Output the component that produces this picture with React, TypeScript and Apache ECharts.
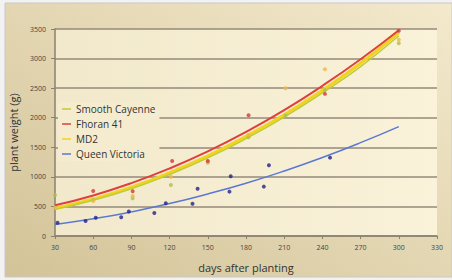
import React, { useEffect, useRef } from "react";
import * as echarts from "echarts";

const trendDays = [30, 60, 90, 120, 150, 180, 210, 240, 270, 300];
const trendFhoran = [519, 686, 894, 1142, 1430, 1759, 2128, 2539, 2989, 3480];
const trendMD2 = [465, 625, 825, 1070, 1355, 1685, 2050, 2465, 2920, 3440];
const trendSmooth = [450, 605, 800, 1040, 1320, 1645, 2010, 2420, 2865, 3385];
const trendQueen = [195, 290, 408, 548, 711, 893, 1099, 1327, 1578, 1850];

const ptsFhoran = [[60, 761], [91, 756], [122, 1269], [150, 1269], [182, 2040], [242, 2403], [300, 3470]];
const ptsMD2 = [[30, 480], [60, 592], [91, 677], [121, 1000], [150, 1255], [182, 1710], [211, 2498], [242, 2820], [300, 3320]];
const ptsSmooth = [[30, 694], [60, 612], [91, 637], [121, 863], [150, 1240], [182, 1670], [211, 2036], [242, 2470], [300, 3260]];
const ptsQueen = [[32, 225], [54, 254], [62, 308], [82, 318], [88, 415], [108, 389], [117, 555], [138, 547], [142, 800], [167, 750], [168, 1010], [194, 835], [198, 1196], [246, 1325]];

const names = ["Smooth Cayenne", "Fhoran 41", "MD2", "Queen Victoria"];
const FONT = "'Open Sans', 'DejaVu Sans', sans-serif";

export default function App() {
  const ref = useRef<HTMLDivElement>(null);
  useEffect(() => {
    const chart = echarts.init(ref.current!, null, { renderer: "svg" });
    const pair = (vals: number[]) => trendDays.map((d, i) => [d, vals[i]]);
    const line = (name: string, vals: number[], color: string, width: number) => ({
      name, type: "line", data: pair(vals), smooth: true, showSymbol: false,
      lineStyle: { color, width }, itemStyle: { color }, z: 3,
    });
    const scat = (name: string, pts: number[][], color: string) => ({
      name, type: "scatter", data: pts, symbolSize: 4, itemStyle: { color }, z: 4,
    });
    chart.setOption({
      animation: false,
      backgroundColor: "#f2f2f2",
      graphic: [
        {
          type: "rect", shape: { x: 5, y: 3, width: 447, height: 274 }, z: -10,
          style: {
            fill: new echarts.graphic.LinearGradient(0, 1, 1, 0, [
              { offset: 0, color: "#d3c398" },
              { offset: 1, color: "#f3e9cc" },
            ]),
            stroke: "#c8c8c8", lineWidth: 1,
          },
        },
      ],
      grid: {
        left: 55, right: 15, top: 29, bottom: 44, show: true, borderWidth: 0,
        backgroundColor: new echarts.graphic.LinearGradient(0, 0, 1, 0, [
          { offset: 0, color: "#f2e9cc" },
          { offset: 1, color: "#faf2d9" },
        ]),
      },
      legend: {
        data: names, orient: "vertical", left: 58, top: 102, icon: "rect",
        itemWidth: 9, itemHeight: 1.5, itemGap: 5, padding: [2, 4, 2, 4],
        backgroundColor: "#f5ecd0",
        textStyle: { fontFamily: FONT, fontSize: 10, color: "#333" },
      },
      xAxis: {
        type: "value", min: 30, max: 330, interval: 30,
        name: "days after planting", nameLocation: "middle", nameGap: 26,
        nameTextStyle: { fontFamily: FONT, fontSize: 11, color: "#333" },
        axisLine: { show: true, lineStyle: { color: "#8a8070", width: 1.5 } },
        axisTick: { show: true, length: 3, lineStyle: { color: "#8a8070" } },
        axisLabel: { fontFamily: FONT, fontSize: 7, color: "#444", margin: 8, formatter: (v: number) => String(v) },
        splitLine: { show: false },
      },
      yAxis: {
        type: "value", min: 0, max: 3500, interval: 500,
        name: "plant weight (g)", nameLocation: "middle", nameGap: 32,
        nameTextStyle: { fontFamily: FONT, fontSize: 11, color: "#333" },
        axisLine: { show: true, lineStyle: { color: "#8a8070", width: 1.5 } },
        axisTick: { show: true, length: 4, lineStyle: { color: "#8a8070" } },
        axisLabel: { fontFamily: FONT, fontSize: 7, color: "#444", margin: 9, formatter: (v: number) => String(v) },
        splitLine: { show: true, lineStyle: { color: "#948a78", width: 1.5 } },
      },
      series: [
        line("MD2", trendMD2, "#f3d21e", 3),
        line("Smooth Cayenne", trendSmooth, "#bccd3c", 1.5),
        line("Fhoran 41", trendFhoran, "#e0403a", 2),
        line("Queen Victoria", trendQueen, "#5a78d2", 1.5),
        scat("Smooth Cayenne", ptsSmooth, "#a9c24a"),
        scat("MD2", ptsMD2, "#f0b844"),
        scat("Fhoran 41", ptsFhoran, "#d23a36"),
        scat("Queen Victoria", ptsQueen, "#22228c"),
      ],
    });
    return () => chart.dispose();
  }, []);
  return (
    <div style={{ position: "fixed", left: 0, top: 0, width: 452, height: 280 }}>
      <div ref={ref} style={{ width: 452, height: 280 }} />
    </div>
  );
}
